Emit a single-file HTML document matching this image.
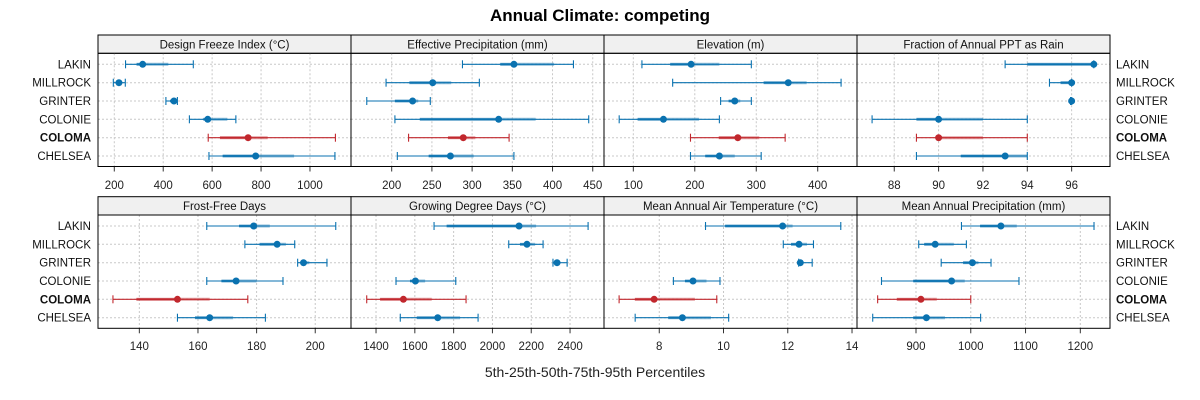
<!DOCTYPE html>
<html><head><meta charset="utf-8"><style>
html,body{margin:0;padding:0;background:#fff;}
svg{display:block;font-family:"Liberation Sans",sans-serif;}
</style></head><body>
<svg id="chart" width="1200" height="400" viewBox="0 0 1200 400">
<text x="600" y="21" text-anchor="middle" font-size="17" font-weight="bold" fill="#000">Annual Climate: competing</text>
<text x="595" y="377" text-anchor="middle" font-size="14" fill="#222">5th-25th-50th-75th-95th Percentiles</text>
</svg>
<script>
const sites = ["LAKIN","MILLROCK","GRINTER","COLONIE","COLOMA","CHELSEA"];
const titles = ["Design Freeze Index (°C)","Effective Precipitation (mm)","Elevation (m)","Fraction of Annual PPT as Rain",
  "Frost-Free Days","Growing Degree Days (°C)","Mean Annual Air Temperature (°C)","Mean Annual Precipitation (mm)"];
const domains = [[133.4,1167.7],[149.4,464],[52.3,463.9],[86.32,97.73],[125.9,212.2],[1271,2575],[6.28,14.155],[792.3,1254.2]];
const ticks = [[200,400,600,800,1000],[200,250,300,350,400,450],[100,200,300,400],[88,90,92,94,96],
  [140,160,180,200],[1400,1600,1800,2000,2200,2400],[8,10,12,14],[900,1000,1100,1200]];
// rows: p5,p25,p50,p75,p95 per site
const dfi = [[246,291,316,421,523],[196,210,219,230,245],[411,428,444,452,458],[507,564,582,662,697],[584,632,747,827,1104],[587,643,778,935,1102]];
const effp = [[288,335,352,402,426],[193,222,251,274,309],[169,204,226,233,248],[204,235,333,379,445],[221,270,289,304,346],[207,246,273,302,352]];
const elev = [[114,160,194,240,292],[164,312,352,382,438],[242,255,265,274,292],[77,107,149,207,240],[193,239,270,305,347],[193,217,240,265,308]];
const rain = [[93,94,97,97,97],[95,95.5,96,96,96],[95.95,96,96,96,96],[87,89,90,92,94],[89,90,90,92,94],[89,91,93,94,94]];
const ffd = [[163,174,179,184.5,207],[176,181,187,190,193],[194,195,196,198,204],[163,168,173,180,189],[131,139,153,164,177],[153,159,164,172,183]];
const gdd = [[1699,1764,2137,2225,2493],[2084,2142,2178,2220,2261],[2312,2320,2333,2340,2385],[1503,1575,1603,1653,1811],[1352,1421,1541,1687,1864],[1525,1610,1718,1833,1926]];
const maat = [[9.44,10.05,11.84,12.15,13.65],[11.86,12.1,12.35,12.6,12.8],[12.34,12.36,12.39,12.48,12.76],[8.44,8.8,9.05,9.47,9.89],[6.75,7.24,7.84,9.11,9.79],[7.25,8.28,8.72,9.61,10.16]];
const map = [[983,1017,1055,1084,1225],[905,915,935,969,992],[946,986,1003,1014,1037],[837,895,965,989,1088],[830,865,909,938,1000],[821,895,919,953,1018]];
const allData = [dfi,effp,elev,rain,ffd,gdd,maat,map];

const NS="http://www.w3.org/2000/svg";
const svg=document.getElementById('chart');
function mk(tag,attrs,parent){const e=document.createElementNS(NS,tag);for(const k in attrs)e.setAttribute(k,attrs[k]);(parent||svg).appendChild(e);return e;}
const colX=[98,351,604,857,1110];
const rowsGeom=[{s:35,p:53.3,b:166.5,rows:[64.3,82.7,101,119.3,137.7,156],lab:185},
                {s:196.7,p:215,b:328.3,rows:[226,244.3,262.7,281,299.3,317.7],lab:346}];
for(let i=0;i<8;i++){
  const c=i%4,r=Math.floor(i/4),G=rowsGeom[r];
  const x0=colX[c],x1=colX[c+1];
  const d=domains[i];
  const sx=v=>x0+(v-d[0])/(d[1]-d[0])*(x1-x0);
  const g=mk('g',{});
  
  
  const strip=mk('rect',{x:x0,y:G.s,width:x1-x0,height:G.p-G.s,fill:'#f0f0f0',stroke:'#000','stroke-width':1},g);
  
  
  const st=mk('text',{x:(x0+x1)/2,y:G.s+13.5,'text-anchor':'middle','font-size':11.5,fill:'#111'},g);
  st.textContent=titles[i];
  
  
  ticks[i].forEach(t=>{const x=sx(t);
    mk('line',{x1:x,x2:x,y1:G.p,y2:G.b,stroke:'#c8c8c8','stroke-dasharray':'2,2','stroke-width':1},g);
    const tk=mk('line',{x1:x,x2:x,y1:G.b,y2:G.b+5,stroke:'#333'},g);
    
    
    const tl=mk('text',{x:x,y:G.lab+4,'text-anchor':'middle','font-size':11.5,fill:'#222'},g);
    tl.textContent=t;
    
    
  });
  G.rows.forEach(y=>mk('line',{x1:x0,x2:x1,y1:y,y2:y,stroke:'#c8c8c8','stroke-dasharray':'2,2','stroke-width':1},g));
  allData[i].forEach((q,k)=>{
    const y=G.rows[k];
    const col=sites[k]==="COLOMA"?'#c1272d':'#0a72b0';
    const m=mk('g',{},g);
    
    
    mk('line',{x1:sx(q[0]),x2:sx(q[4]),y1:y,y2:y,stroke:col,'stroke-width':1.1},m);
    mk('line',{x1:sx(q[0]),x2:sx(q[0]),y1:y-4,y2:y+4,stroke:col,'stroke-width':1.1},m);
    mk('line',{x1:sx(q[4]),x2:sx(q[4]),y1:y-4,y2:y+4,stroke:col,'stroke-width':1.1},m);
    mk('line',{x1:sx(q[1]),x2:sx(q[3]),y1:y,y2:y,stroke:col,'stroke-width':3,'stroke-opacity':0.45},m);
    mk('line',{x1:sx(q[1]),x2:sx(q[2]),y1:y,y2:y,stroke:col,'stroke-width':2.2,'stroke-opacity':0.85},m);
    const dot=mk('circle',{cx:sx(q[2]),cy:y,r:3.5,fill:col},m);
    
    
  });
  mk('rect',{x:x0,y:G.p,width:x1-x0,height:G.b-G.p,fill:'none',stroke:'#000','stroke-width':1},g);
  if(c===0||c===3){
    G.rows.forEach((y,k)=>{
      const t=mk('text',{x:c===0?91:1116,y:y+4,'text-anchor':c===0?'end':'start','font-size':11.5,fill:'#111','font-weight':sites[k]==="COLOMA"?'bold':'normal'},g);
      t.textContent=sites[k];
      
      
    });
  }
}
</script>
</body></html>
